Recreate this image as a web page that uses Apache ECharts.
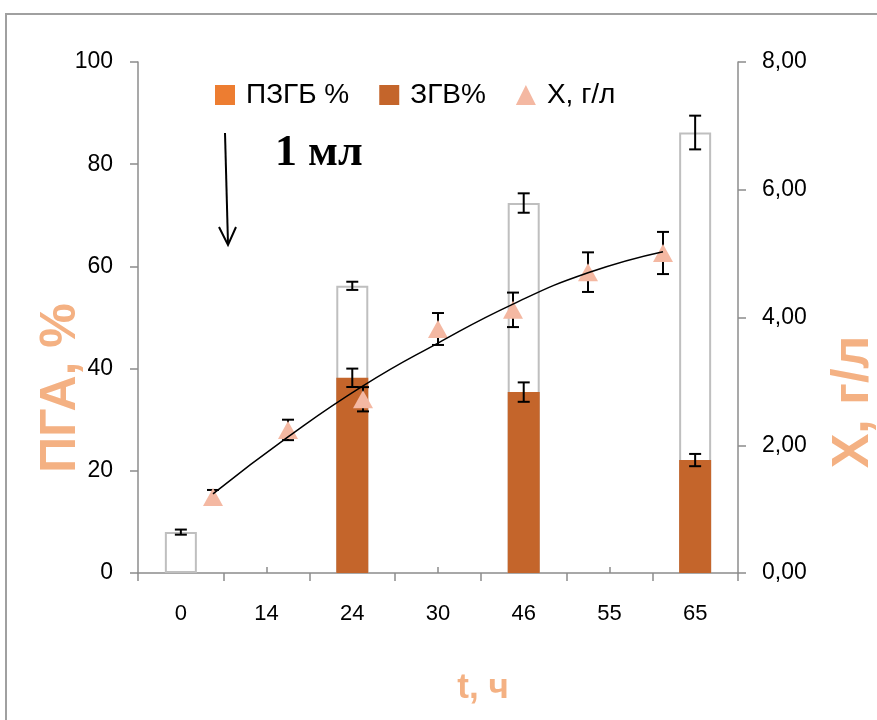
<!DOCTYPE html>
<html>
<head>
<meta charset="utf-8">
<script src="https://cdn.jsdelivr.net/npm/echarts@6/dist/echarts.min.js"></script>
<style>
html,body{margin:0;padding:0;background:#fff;}
#chart{width:877px;height:720px;}
</style>
</head>
<body>
<div id="chart"></div>
<script>
// ---- data ----
var categories = ['0', '14', '24', '30', '46', '55', '65'];
var pzgbValues = [8.0, null, 56.2, null, 72.4, null, 86.2];   // ПЗГБ % (white bars)
var pzgbErrors = [0.5, null, 0.8, null, 1.9, null, 3.3];
var zgvValues  = [null, null, 38.2, null, 35.4, null, 22.1];   // ЗГВ%
var zgvErrors  = [null, null, 1.8, null, 1.9, null, 1.2];
var xPositions = [1, 2, 3, 4, 5, 6, 7];                         // slots of the secondary x axis
var xValues    = [1.19, 2.24, 2.72, 3.82, 4.12, 4.71, 5.01];   // X, г/л
var xErrors    = [0.11, 0.16, 0.19, 0.25, 0.27, 0.31, 0.33];
var trendValues = [1.24, 2.13, 2.93, 3.60, 4.21, 4.70, 5.03];  // trend line
var leftTicks = [0, 20, 40, 60, 80, 100];
var rightTicks = [0, 2, 4, 6, 8];

var FONT = '"Liberation Sans", Arial, sans-serif';
var AXIS_COLOR = '#8C8C8C';
var TITLE_COLOR = '#F4B183';

function barErr(vals, errs) {
  var out = [];
  for (var i = 0; i < vals.length; i++) {
    if (vals[i] != null && errs[i] != null) out.push([i, vals[i], errs[i]]);
  }
  return out;
}
function ptErr() {
  var out = [];
  for (var i = 0; i < xValues.length; i++) out.push([xPositions[i], xValues[i], xErrors[i]]);
  return out;
}
function errRender(params, api) {
  var x = api.value(0), y = api.value(1), e = api.value(2);
  var top = api.coord([x, y + e]);
  var bot = api.coord([x, y - e]);
  var hw = 6;
  var st = {stroke: '#000', lineWidth: 2};
  return {
    type: 'group',
    children: [
      {type: 'line', shape: {x1: top[0], y1: top[1], x2: bot[0], y2: bot[1]}, style: st},
      {type: 'line', shape: {x1: top[0] - hw, y1: top[1], x2: top[0] + hw, y2: top[1]}, style: st},
      {type: 'line', shape: {x1: bot[0] - hw, y1: bot[1], x2: bot[0] + hw, y2: bot[1]}, style: st}
    ]
  };
}

var chart = echarts.init(document.getElementById('chart'), null, {renderer: 'canvas'});
var option = {
  animation: false,
  backgroundColor: '#fff',
  grid: {left: 138, right: 139, top: 62, bottom: 147, containLabel: false},
  legend: {
    left: 210, top: 76,
    itemWidth: 20, itemHeight: 20, itemGap: 30,
    textStyle: {fontFamily: FONT, fontSize: 28, color: '#000', padding: [0, 0, 0, 6]},
    data: [
      {name: 'ПЗГБ %', icon: 'rect', itemStyle: {color: '#ED7D31', borderWidth: 0}},
      {name: 'ЗГВ%', icon: 'rect', itemStyle: {color: '#C4652B', borderWidth: 0}},
      {name: 'X, г/л', icon: 'triangle', itemStyle: {color: '#F4B8A2'}}
    ]
  },
  xAxis: [
    {
      type: 'category', data: categories, position: 'bottom',
      axisLine: {lineStyle: {color: AXIS_COLOR, width: 1.5}},
      axisTick: {show: true, alignWithLabel: false, length: 8, lineStyle: {color: AXIS_COLOR, width: 1.5}},
      axisLabel: {fontFamily: FONT, fontSize: 22, color: '#000', margin: 30},
      splitLine: {show: false}
    },
    {
      type: 'category', data: categories, position: 'bottom',
      axisLine: {show: false},
      axisTick: {show: true, inside: true, alignWithLabel: true, length: 6, lineStyle: {color: AXIS_COLOR, width: 1.5}},
      axisLabel: {show: false},
      splitLine: {show: false}
    },
    {
      type: 'value', min: 0, max: 8, show: false
    }
  ],
  yAxis: [
    {
      type: 'value', min: 0, max: 100, interval: 20, position: 'left',
      axisLine: {show: true, lineStyle: {color: AXIS_COLOR, width: 1.5}},
      axisTick: {show: true, length: 8, lineStyle: {color: AXIS_COLOR, width: 1.5}},
      axisLabel: {fontFamily: FONT, fontSize: 23, color: '#000', margin: 25},
      splitLine: {show: false}
    },
    {
      type: 'value', min: 0, max: 8, interval: 2, position: 'right',
      axisLine: {show: true, lineStyle: {color: AXIS_COLOR, width: 1.5}},
      axisTick: {show: true, length: 8, lineStyle: {color: AXIS_COLOR, width: 1.5}},
      axisLabel: {fontFamily: FONT, fontSize: 23, color: '#000', margin: 24,
        formatter: function (v) { return v.toFixed(2).replace('.', ','); }},
      splitLine: {show: false}
    }
  ],
  series: [
    {
      name: 'ПЗГБ %', type: 'bar', xAxisIndex: 0, yAxisIndex: 0,
      data: pzgbValues, barWidth: 32, barGap: '-100%', z: 2,
      itemStyle: {color: '#FFFFFF', borderColor: '#BFBFBF', borderWidth: 2}
    },
    {
      name: 'ЗГВ%', type: 'bar', xAxisIndex: 0, yAxisIndex: 0,
      data: zgvValues, barWidth: 32, barGap: '-100%', z: 3,
      itemStyle: {color: '#C4652B'}
    },
    {
      name: 'errPZGB', type: 'custom', xAxisIndex: 0, yAxisIndex: 0, z: 5,
      renderItem: errRender, data: barErr(pzgbValues, pzgbErrors), silent: true
    },
    {
      name: 'errZGV', type: 'custom', xAxisIndex: 0, yAxisIndex: 0, z: 5,
      renderItem: errRender, data: barErr(zgvValues, zgvErrors), silent: true
    },
    {
      name: 'errX', type: 'custom', xAxisIndex: 2, yAxisIndex: 1, z: 5,
      renderItem: errRender, data: ptErr(), silent: true
    },
    {
      name: 'X, г/л', type: 'scatter', xAxisIndex: 2, yAxisIndex: 1, z: 6,
      symbol: 'triangle', symbolSize: [20, 18],
      itemStyle: {color: '#F4B8A2', opacity: 1},
      data: xPositions.map(function (p, i) { return [p, xValues[i]]; })
    },
    {
      name: 'trend', type: 'line', xAxisIndex: 2, yAxisIndex: 1, z: 7,
      smooth: true, showSymbol: false, symbol: 'none', silent: true,
      lineStyle: {color: '#000', width: 1.5},
      data: xPositions.map(function (p, i) { return [p, trendValues[i]]; })
    }
  ],
  graphic: [
    {type: 'rect', shape: {x: 6, y: 14, width: 1000, height: 1000},
     style: {fill: 'none', stroke: '#A0A0A0', lineWidth: 2}, z: -10, silent: true},
    {type: 'line', shape: {x1: 225, y1: 133, x2: 228, y2: 244},
     style: {stroke: '#000', lineWidth: 2}, silent: true},
    {type: 'polyline', shape: {points: [[219, 227], [228, 245], [236, 227]]},
     style: {stroke: '#000', lineWidth: 2, fill: 'none'}, silent: true},
    {type: 'text', left: 275, top: 132,
     style: {text: '1 мл', font: 'bold 44px "Liberation Serif", "Times New Roman", serif', fill: '#000'}},
    {type: 'text', x: 61, y: 388, rotation: Math.PI / 2,
     style: {text: 'ПГА, %', font: 'bold 50px ' + FONT, fill: TITLE_COLOR, align: 'center', verticalAlign: 'middle'}},
    {type: 'text', x: 854, y: 402, rotation: Math.PI / 2,
     style: {text: 'X, г/л', font: 'bold 52px ' + FONT, fill: TITLE_COLOR, align: 'center', verticalAlign: 'middle'}},
    {type: 'text', x: 483, y: 688,
     style: {text: 't, ч', font: 'bold 35px ' + FONT, fill: TITLE_COLOR, align: 'center', verticalAlign: 'middle'}}
  ]
};
chart.setOption(option);
</script>
</body>
</html>
